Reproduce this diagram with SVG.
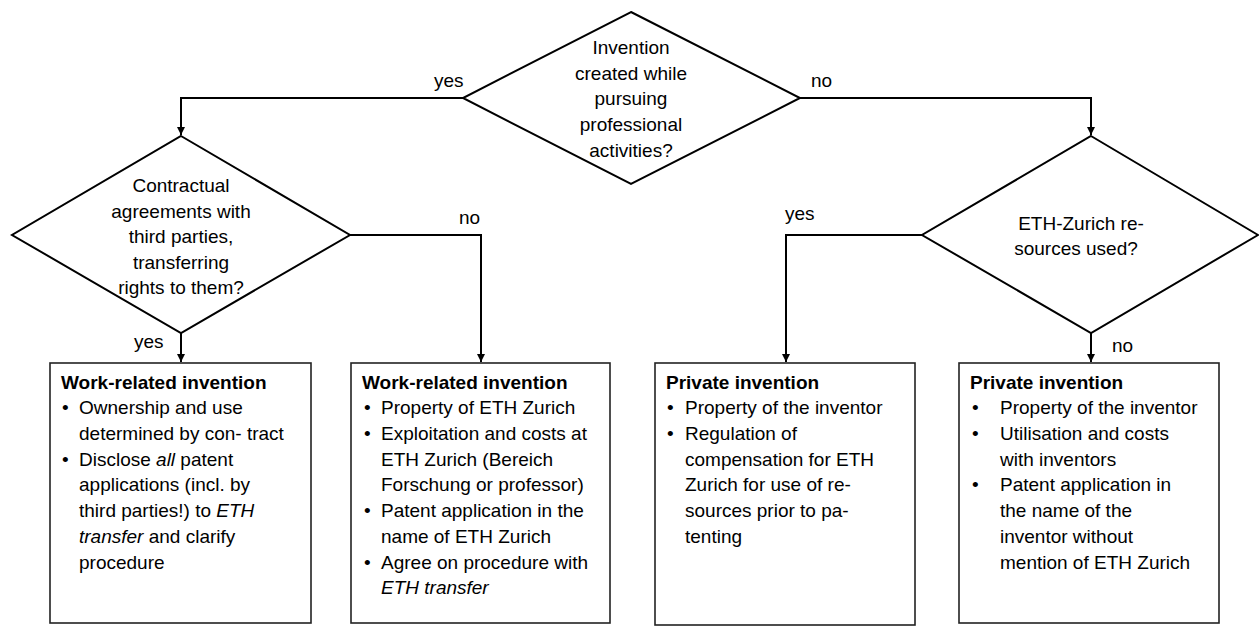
<svg xmlns="http://www.w3.org/2000/svg" width="1259" height="627" viewBox="0 0 1259 627">
<style>
text{font-family:"Liberation Sans",Arial,sans-serif;font-size:19px;fill:#000}
.c{text-anchor:middle}
.b{font-weight:bold}
.i{font-style:italic}
.shape{fill:#fff;stroke:#000;stroke-width:2}
.box{fill:#fff;stroke:#222;stroke-width:1.6}
.line{fill:none;stroke:#000;stroke-width:2}
</style>
<defs>
<marker id="arr" viewBox="0 0 8 10" refX="8" refY="5" markerWidth="8" markerHeight="10" markerUnits="userSpaceOnUse" orient="auto">
<path d="M0,1 L8,5 L0,9 z" fill="#000"/>
</marker>
</defs>
<rect width="1259" height="627" fill="#fff"/>
<g id="connectors">
<path class="line" d="M463,98 H181 V135" marker-end="url(#arr)"/>
<path class="line" d="M800,98 H1091 V135" marker-end="url(#arr)"/>
<path class="line" d="M181,333 V362" marker-end="url(#arr)"/>
<path class="line" d="M350,235 H481 V362" marker-end="url(#arr)"/>
<path class="line" d="M922,235 H786 V362" marker-end="url(#arr)"/>
<path class="line" d="M1091,333 V362" marker-end="url(#arr)"/>
<text x="434" y="87">yes</text>
<text x="811" y="87">no</text>
<text x="459" y="224">no</text>
<text x="785" y="220">yes</text>
<text x="134" y="348">yes</text>
<text x="1112" y="352">no</text>
</g>
<g id="q1">
<polygon class="shape" points="631,12 800,98 631,184 463,98"/>
<text class="c" x="631" y="54">Invention</text>
<text class="c" x="631" y="80">created while</text>
<text class="c" x="631" y="105">pursuing</text>
<text class="c" x="631" y="131">professional</text>
<text class="c" x="631" y="157">activities?</text>
</g>
<g id="q2">
<polygon class="shape" points="181,136 350,235 181,333 12,235"/>
<text class="c" x="181" y="192">Contractual</text>
<text class="c" x="181" y="218">agreements with</text>
<text class="c" x="181" y="243">third parties,</text>
<text class="c" x="181" y="269">transferring</text>
<text class="c" x="181" y="294">rights to them?</text>
</g>
<g id="q3">
<polygon class="shape" points="1091,136 1258,235 1091,333 922,235"/>
<text class="c" x="1081" y="230">ETH-Zurich re-</text>
<text class="c" x="1076" y="255">sources used?</text>
</g>
<g id="box1">
<rect class="box" x="50" y="363" width="261" height="260"/>
<text class="b" x="61" y="389">Work-related invention</text>
<text x="62" y="414">•</text><text x="79" y="414">Ownership and use</text>
<text x="79" y="440">determined by con- tract</text>
<text x="62" y="466">•</text><text x="79" y="466">Disclose <tspan class="i">all</tspan> patent</text>
<text x="79" y="491">applications (incl. by</text>
<text x="79" y="517">third parties!)  to <tspan class="i">ETH</tspan></text>
<text x="79" y="543"><tspan class="i">transfer</tspan> and clarify</text>
<text x="79" y="569">procedure</text>
</g>
<g id="box2">
<rect class="box" x="351" y="363" width="259" height="260"/>
<text class="b" x="362" y="389">Work-related invention</text>
<text x="364" y="414">•</text><text x="381" y="414">Property of ETH Zurich</text>
<text x="364" y="440">•</text><text x="381" y="440">Exploitation and costs at</text>
<text x="381" y="466">ETH Zurich (Bereich</text>
<text x="381" y="491">Forschung or professor)</text>
<text x="364" y="517">•</text><text x="381" y="517">Patent application in the</text>
<text x="381" y="543">name of ETH Zurich</text>
<text x="364" y="569">•</text><text x="381" y="569">Agree on procedure with</text>
<text class="i" x="381" y="594">ETH transfer</text>
</g>
<g id="box3">
<rect class="box" x="655" y="363" width="260" height="262"/>
<text class="b" x="666" y="389">Private invention</text>
<text x="667" y="414">•</text><text x="685" y="414">Property of the inventor</text>
<text x="667" y="440">•</text><text x="685" y="440">Regulation of</text>
<text x="685" y="466">compensation for ETH</text>
<text x="685" y="491">Zurich for use of re-</text>
<text x="685" y="517">sources prior to pa-</text>
<text x="685" y="543">tenting</text>
</g>
<g id="box4">
<rect class="box" x="959" y="363" width="260" height="260"/>
<text class="b" x="970" y="389">Private invention</text>
<text x="972" y="414">•</text><text x="1000" y="414">Property of the inventor</text>
<text x="972" y="440">•</text><text x="1000" y="440">Utilisation and costs</text>
<text x="1000" y="466">with inventors</text>
<text x="972" y="491">•</text><text x="1000" y="491">Patent application in</text>
<text x="1000" y="517">the name of the</text>
<text x="1000" y="543">inventor without</text>
<text x="1000" y="569">mention of ETH Zurich</text>
</g>
</svg>
